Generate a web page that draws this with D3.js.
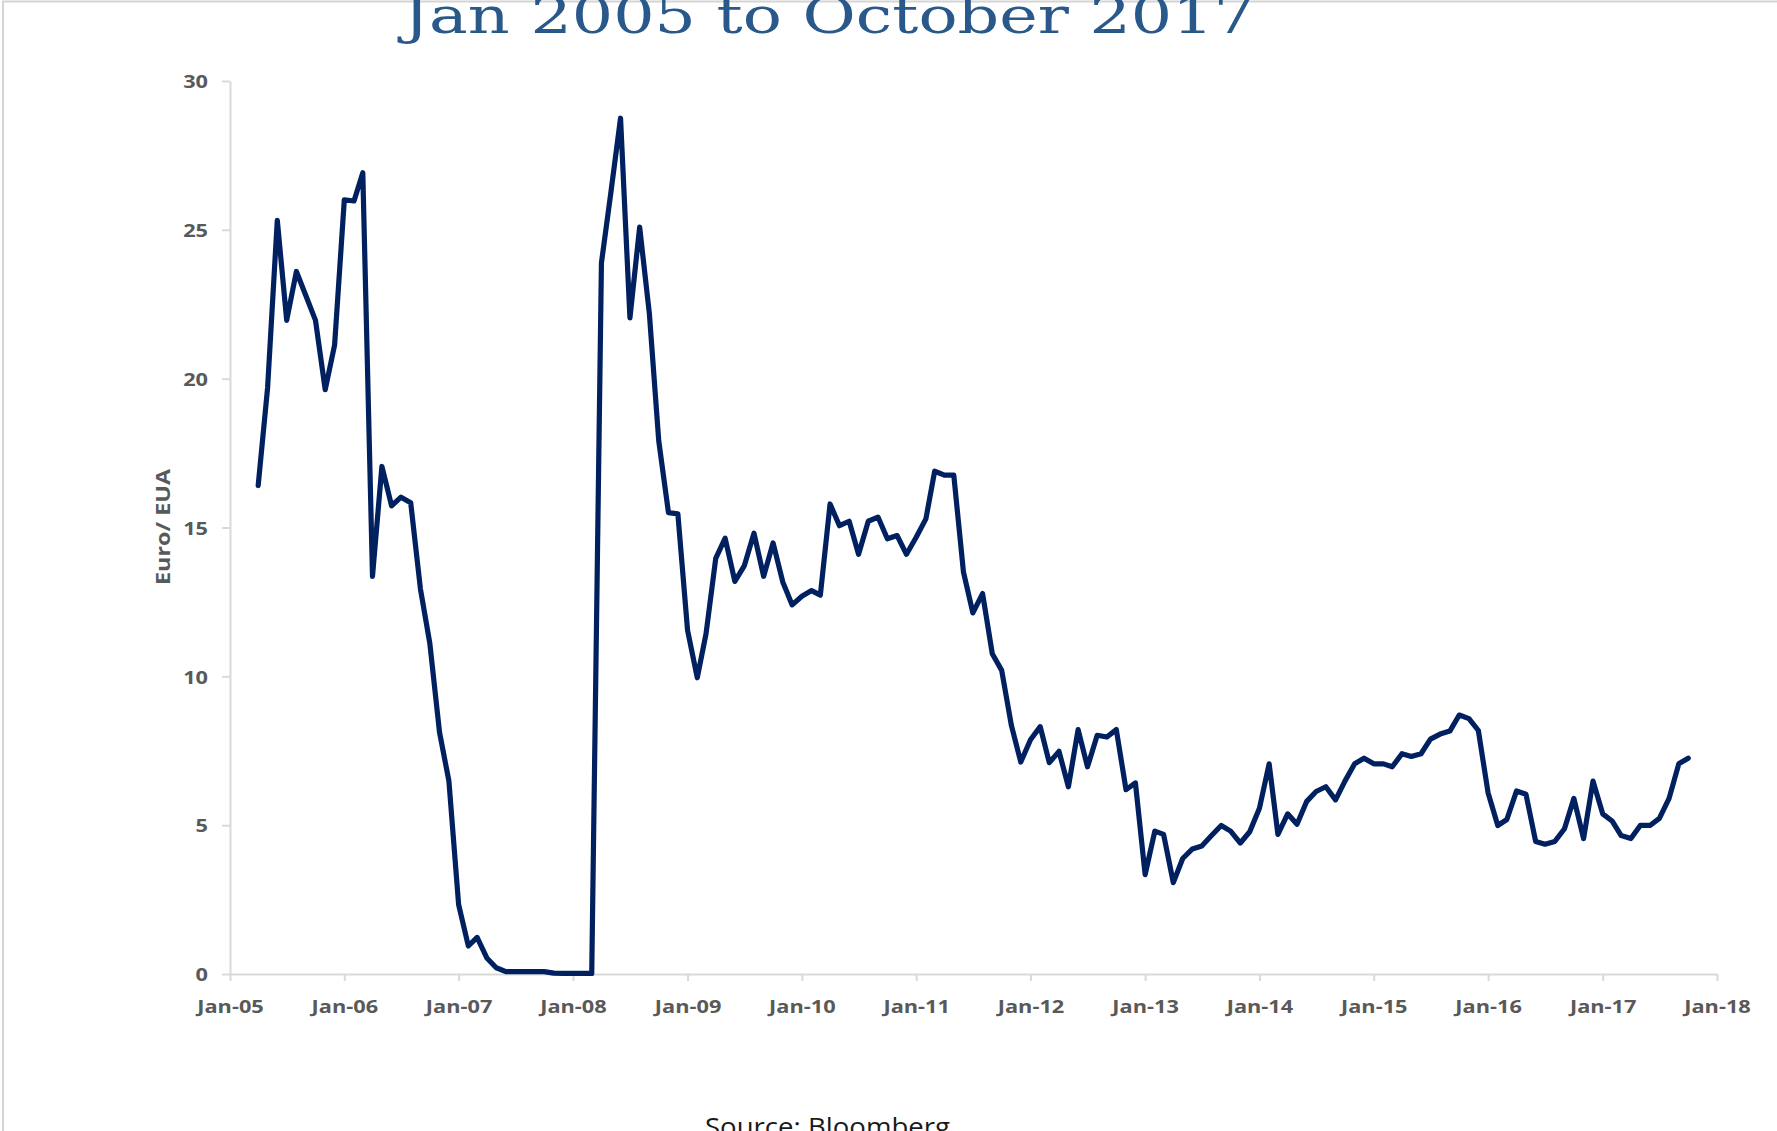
<!DOCTYPE html>
<html>
<head>
<meta charset="utf-8">
<script src="https://cdn.jsdelivr.net/npm/d3@7"></script>
<style>
  html, body { margin: 0; padding: 0; background: #ffffff; overflow: hidden; }
  svg { display: block; }
</style>
</head>
<body>
<svg id="chart" width="1777" height="1131"></svg>
<script>
// ---- Chart text ----
const chartTitle = "Jan 2005 to October 2017";
const yAxisTitle = "Euro/ EUA";
const sourceNote = "Source: Bloomberg";

// ---- EUA spot price, euro per allowance, monthly (first value = April 2005) ----
const firstMonth = "2005-04";
const price2005 = [16.41, 19.69, 25.32, 21.96, 23.60, 22.77, 21.96, 19.63, 21.13];
const price2006 = [26.01, 25.97, 26.92, 13.36, 17.05, 15.73, 16.02, 15.83, 12.94, 11.11, 8.12, 6.48];
const price2007 = [2.33, 0.94, 1.23, 0.54, 0.21, 0.08, 0.08, 0.08, 0.08, 0.08, 0.03, 0.02];
const price2008 = [0.02, 0.02, 0.02, 23.89, 26.24, 28.75, 22.04, 25.09, 22.19, 17.91, 15.50, 15.46];
const price2009 = [11.55, 9.95, 11.43, 13.96, 14.64, 13.19, 13.71, 14.81, 13.36, 14.48, 13.17, 12.40];
const price2010 = [12.69, 12.88, 12.73, 15.79, 15.06, 15.21, 14.10, 15.21, 15.35, 14.62, 14.73, 14.10];
const price2011 = [14.67, 15.29, 16.89, 16.76, 16.76, 13.50, 12.13, 12.78, 10.76, 10.20, 8.35, 7.12];
const price2012 = [7.87, 8.31, 7.10, 7.48, 6.29, 8.21, 6.96, 8.02, 7.96, 8.21, 6.19, 6.42];
const price2013 = [3.34, 4.80, 4.69, 3.07, 3.88, 4.20, 4.30, 4.65, 4.99, 4.80, 4.40, 4.78];
const price2014 = [5.57, 7.06, 4.69, 5.38, 5.03, 5.80, 6.13, 6.29, 5.85, 6.48, 7.06, 7.25];
const price2015 = [7.06, 7.06, 6.96, 7.40, 7.31, 7.40, 7.89, 8.06, 8.16, 8.70, 8.58, 8.18];
const price2016 = [6.09, 4.99, 5.19, 6.15, 6.04, 4.45, 4.36, 4.45, 4.88, 5.90, 4.55, 6.48];
const price2017 = [5.38, 5.13, 4.65, 4.55, 4.99, 4.99, 5.23, 5.90, 7.06, 7.25];

// ---- Axis ticks ----
const xTickLabels = ["Jan-05", "Jan-06", "Jan-07", "Jan-08", "Jan-09", "Jan-10", "Jan-11",
                     "Jan-12", "Jan-13", "Jan-14", "Jan-15", "Jan-16", "Jan-17", "Jan-18"];
const yTickValues = [0, 5, 10, 15, 20, 25, 30];

// ---- Build the series ----
const parseMonth = d3.timeParse("%Y-%m");
const parseTick = d3.timeParse("%b-%y");
const prices = [].concat(price2005, price2006, price2007, price2008, price2009, price2010,
                         price2011, price2012, price2013, price2014, price2015, price2016, price2017);
const start = parseMonth(firstMonth);
const series = prices.map((v, i) => ({ date: d3.timeMonth.offset(start, i), value: v }));
const xTickDates = xTickLabels.map(parseTick);

// ---- Layout ----
const plot = { left: 230, right: 1717, top: 81, bottom: 974 };
const axisColor = "#d9d9d9";
const labelColor = "#595959";
const lineColor = "#002060";
const stretch = 1.17; // horizontal widening applied to the axis lettering

const svg = d3.select("#chart");

// Frame lines along the top and left edges
svg.append("path")
  .attr("d", "M3,1131V1.5H1777")
  .attr("fill", "none")
  .attr("stroke", "#d4d4d4")
  .attr("stroke-width", 2);

const x = d3.scaleTime()
  .domain([xTickDates[0], xTickDates[xTickDates.length - 1]])
  .range([plot.left, plot.right]);

const y = d3.scaleLinear()
  .domain([0, d3.max(yTickValues)])
  .range([plot.bottom, plot.top]);

// Y axis
const yAxis = svg.append("g")
  .attr("transform", `translate(${plot.left},0)`)
  .call(d3.axisLeft(y).tickValues(yTickValues).tickSize(8).tickSizeOuter(0).tickFormat(d3.format("d")));

// X axis
const xAxis = svg.append("g")
  .attr("transform", `translate(0,${plot.bottom})`)
  .call(d3.axisBottom(x).tickValues(xTickDates).tickSize(7).tickSizeOuter(0)
        .tickFormat((d, i) => xTickLabels[i]));

[yAxis, xAxis].forEach(g => {
  g.select(".domain").attr("stroke", axisColor).attr("stroke-width", 2);
  g.selectAll(".tick line").attr("stroke", axisColor).attr("stroke-width", 2);
  g.selectAll(".tick text")
    .attr("fill", labelColor)
    .attr("font-family", "'Open Sans', 'DejaVu Sans', sans-serif")
    .attr("font-weight", 700)
    .attr("font-size", 18.6);
});

yAxis.selectAll(".tick text")
  .attr("x", -22 / stretch)
  .attr("dy", "0.36em")
  .attr("transform", `scale(${stretch},1)`);

xAxis.selectAll(".tick text")
  .attr("y", 39)
  .attr("dy", 0)
  .attr("transform", `scale(${stretch},1)`);

// Price line
const line = d3.line()
  .x(d => x(d.date))
  .y(d => y(d.value));

svg.append("path")
  .datum(series)
  .attr("d", line)
  .attr("fill", "none")
  .attr("stroke", lineColor)
  .attr("stroke-width", 5.2)
  .attr("stroke-linejoin", "round")
  .attr("stroke-linecap", "round");

// Y axis title
svg.append("text")
  .attr("transform", "translate(170,527) rotate(-90)")
  .attr("text-anchor", "middle")
  .attr("fill", labelColor)
  .attr("font-family", "'Open Sans', 'DejaVu Sans', sans-serif")
  .attr("font-weight", 700)
  .attr("font-size", 20)
  .attr("textLength", 116)
  .attr("lengthAdjust", "spacingAndGlyphs")
  .text(yAxisTitle);

// Title (top of the glyphs runs off the page edge)
svg.append("text")
  .attr("x", 829)
  .attr("y", 33)
  .attr("text-anchor", "middle")
  .attr("fill", "#29588a")
  .attr("font-family", "'DejaVu Serif', 'Liberation Serif', serif")
  .attr("font-size", 50)
  .attr("textLength", 852)
  .attr("lengthAdjust", "spacingAndGlyphs")
  .text(chartTitle);

// Source note (partly below the bottom edge)
svg.append("text")
  .attr("x", 705)
  .attr("y", 1136)
  .attr("fill", "#1a1a1a")
  .attr("font-family", "'Open Sans', 'Noto Sans', sans-serif")
  .attr("font-size", 25)
  .attr("textLength", 245)
  .attr("lengthAdjust", "spacingAndGlyphs")
  .text(sourceNote);
</script>
</body>
</html>
